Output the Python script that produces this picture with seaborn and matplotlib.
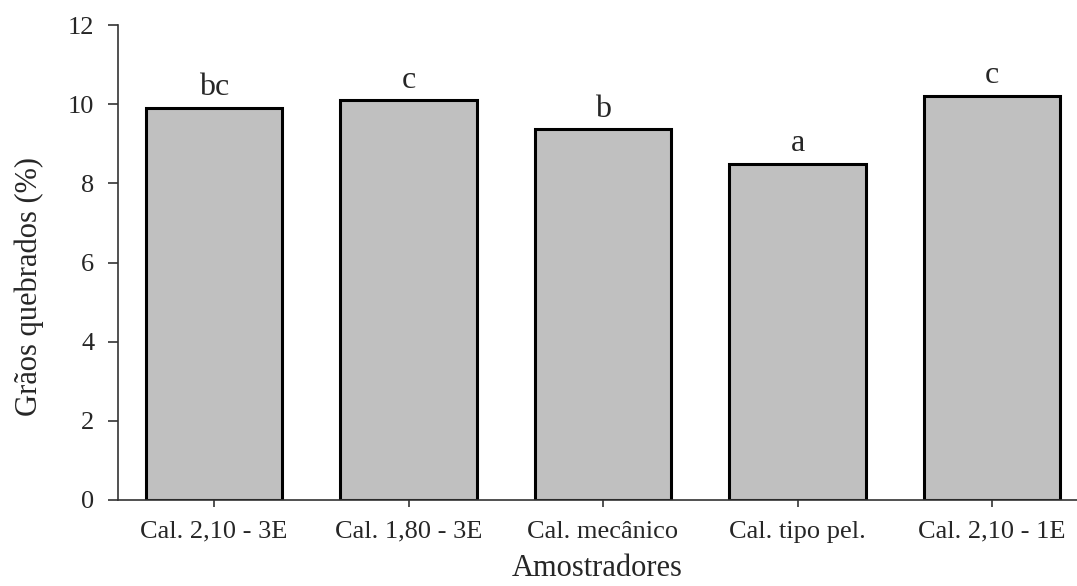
import matplotlib
matplotlib.use("Agg")
import matplotlib.pyplot as plt
import seaborn as sns
import pandas as pd

categories = ["Cal. 2,10 - 3E", "Cal. 1,80 - 3E", "Cal. mecânico", "Cal. tipo pel.", "Cal. 2,10 - 1E"]
values = [9.91, 10.10, 9.37, 8.49, 10.21]
letters = ["bc", "c", "b", "a", "c"]
yticks = [0, 2, 4, 6, 8, 10, 12]

sns.set_style("ticks")
plt.rcParams["font.family"] = ["Liberation Serif", "DejaVu Serif"]

df = pd.DataFrame({"Amostradores": categories, "valor": values})

fig = plt.figure(figsize=(10.77, 5.86), dpi=100)
ax = fig.add_axes([118 / 1077, 86 / 586, 1 - 118 / 1077, 475 / 586])

sns.barplot(data=df, x="Amostradores", y="valor", color="#c0c0c0", saturation=1,
            edgecolor="black", linewidth=2.2, width=0.70, ax=ax)

for i, (v, l) in enumerate(zip(values, letters)):
    ax.annotate(l, (i, v), xytext=(0, 4), textcoords="offset points",
                ha="center", va="bottom", fontsize=23)

ax.set_ylim(0, 12)
ax.set_xlim(-0.494, 4.437)
ax.set_yticks(yticks)
ax.set_yticklabels([str(t) for t in yticks])

for s in ["top", "right"]:
    ax.spines[s].set_visible(False)
for s in ["left", "bottom"]:
    ax.spines[s].set_linewidth(1.2)
    ax.spines[s].set_color("#333333")

ax.tick_params(axis="y", direction="out", length=7, width=1.2, color="#333333",
               labelsize=19, pad=10)
ax.tick_params(axis="x", direction="out", length=5, width=1.2, color="#333333",
               labelsize=19, pad=10)

ax.set_xlabel("Amostradores", fontsize=22, labelpad=8)
ax.set_ylabel("Grãos quebrados (%)", fontsize=22)
ax_w = 1077 - 118
ax.yaxis.set_label_coords((44 - 118) / ax_w, 0.45)

fig.savefig("out.png", dpi=100)
